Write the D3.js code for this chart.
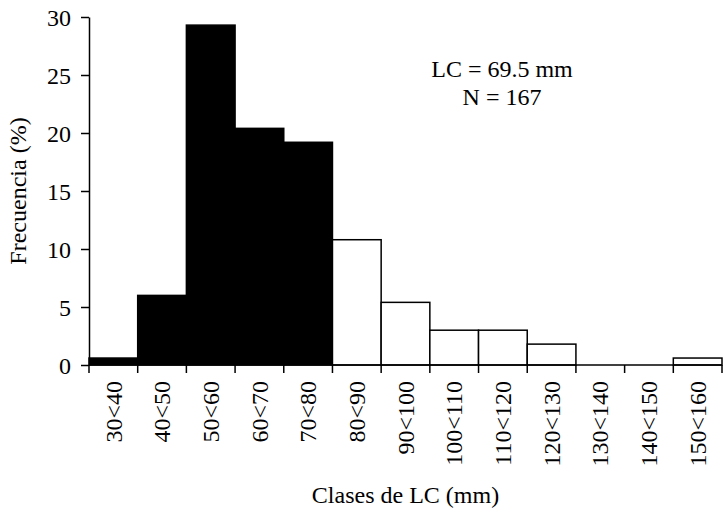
<!DOCTYPE html>
<html>
<head>
<meta charset="utf-8">
<script src="https://cdn.jsdelivr.net/npm/d3@7/dist/d3.min.js"></script>
<style>
  body { margin: 0; background: #fff; }
  text { font-family: "Liberation Serif", "Times New Roman", serif; fill: #000; }
</style>
</head>
<body>
<script>
// data (percent of N = 167)
const classes = ["30<40", "40<50", "50<60", "60<70", "70<80", "80<90", "90<100",
  "100<110", "110<120", "120<130", "130<140", "140<150", "150<160"];
const freq = [0.6, 6.0, 29.3, 20.4, 19.2, 10.8, 5.4, 3.0, 3.0, 1.8, 0, 0, 0.6];
const filled = [true, true, true, true, true, false, false, false, false, false, false, false, false];
const yTicks = [0, 5, 10, 15, 20, 25, 30];
const notes = ["LC = 69.5 mm", "N = 167"];

const width = 723, height = 513;
const margin = {top: 17, right: 1, bottom: 148, left: 89};
const plotW = width - margin.left - margin.right;
const plotH = height - margin.top - margin.bottom;

const svg = d3.select("body").append("svg")
  .attr("width", width)
  .attr("height", height);

const g = svg.append("g")
  .attr("transform", "translate(" + margin.left + "," + margin.top + ")");

const x = d3.scaleBand()
  .domain(classes)
  .range([0, plotW])
  .padding(0);

const y = d3.scaleLinear()
  .domain([0, 30])
  .range([plotH, 0]);

// bars
g.selectAll("rect.bar")
  .data(classes)
  .enter().append("rect")
  .attr("class", "bar")
  .attr("x", function(d) { return x(d); })
  .attr("width", x.bandwidth())
  .attr("y", function(d, i) { return y(freq[i]); })
  .attr("height", function(d, i) { return plotH - y(freq[i]); })
  .attr("fill", function(d, i) { return filled[i] ? "#000" : "#fff"; })
  .attr("stroke", "#000")
  .attr("stroke-width", 1.5);

// y axis
const yAxis = g.append("g")
  .call(d3.axisLeft(y).tickValues(yTicks).tickSize(8).tickPadding(10).tickSizeOuter(0));
yAxis.select(".domain").attr("stroke-width", 1.5);
yAxis.selectAll(".tick line").attr("stroke-width", 1.5);
yAxis.selectAll(".tick text")
  .style("font-size", "24px")
  .attr("dy", "0.34em");

// x axis: ticks at class boundaries
const bounds = d3.range(classes.length + 1).map(function(i) { return i * x.bandwidth(); });
const xAxis = g.append("g")
  .attr("transform", "translate(0," + plotH + ")");
xAxis.append("line")
  .attr("x1", 0).attr("x2", plotW)
  .attr("stroke", "#000").attr("stroke-width", 1.5);
xAxis.selectAll("line.tick")
  .data(bounds)
  .enter().append("line")
  .attr("class", "tick")
  .attr("x1", function(d) { return d; })
  .attr("x2", function(d) { return d; })
  .attr("y1", 0).attr("y2", 8)
  .attr("stroke", "#000").attr("stroke-width", 1.5);
xAxis.selectAll("text.lab")
  .data(classes)
  .enter().append("text")
  .attr("class", "lab")
  .attr("transform", function(d) {
    return "translate(" + (x(d) + x.bandwidth() / 2) + ",16) rotate(-90)";
  })
  .attr("text-anchor", "end")
  .attr("dy", "0.34em")
  .style("font-size", "24px")
  .text(function(d) { return d; });

// axis titles
svg.append("text")
  .attr("x", margin.left + plotW / 2)
  .attr("y", 503)
  .attr("text-anchor", "middle")
  .style("font-size", "24px")
  .text("Clases de LC (mm)");

svg.append("text")
  .attr("transform", "translate(26," + (margin.top + plotH / 2) + ") rotate(-90)")
  .attr("text-anchor", "middle")
  .style("font-size", "24px")
  .text("Frecuencia (%)");

// annotation
svg.selectAll("text.note")
  .data(notes)
  .enter().append("text")
  .attr("class", "note")
  .attr("x", 502)
  .attr("y", function(d, i) { return 77 + i * 28; })
  .attr("text-anchor", "middle")
  .style("font-size", "24px")
  .text(function(d) { return d; });
</script>
</body>
</html>
